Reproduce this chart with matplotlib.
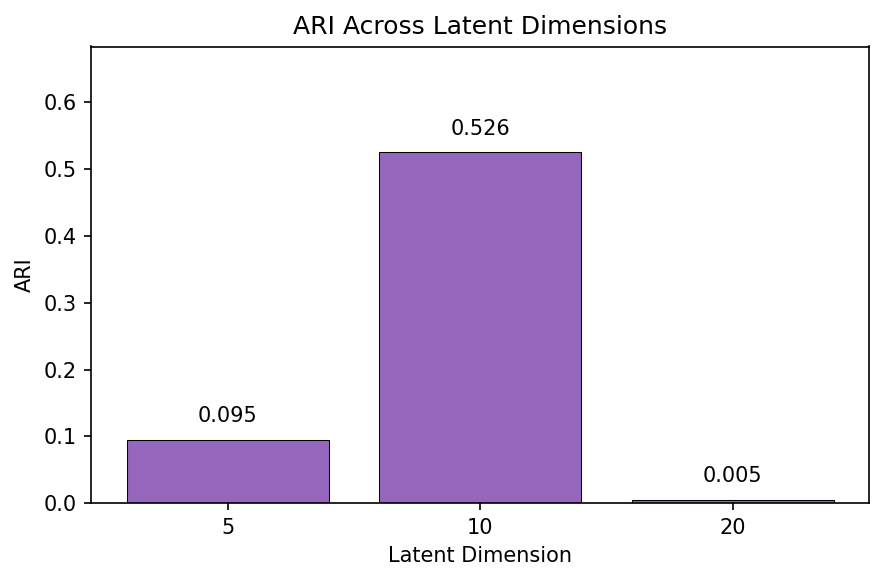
import matplotlib
matplotlib.use("Agg")
import matplotlib.pyplot as plt

# latent dims and ARI scores
dims = ["5", "10", "20"]
ari = [0.095, 0.526, 0.005]

fig, ax = plt.subplots(figsize=(6, 4))
bars = ax.bar(dims, ari, color="tab:purple", edgecolor="black", linewidth=0.5)

for b, v in zip(bars, ari):
    ax.text(b.get_x() + b.get_width() / 2, v + 0.02, f"{v:.3f}",
            ha="center", va="bottom")

ax.set_ylim(0, max(ari) * 1.3)
ax.set_xlabel("Latent Dimension")
ax.set_ylabel("ARI")
ax.set_title("ARI Across Latent Dimensions")

plt.tight_layout()
plt.savefig("out.png", dpi=150, bbox_inches="tight")
